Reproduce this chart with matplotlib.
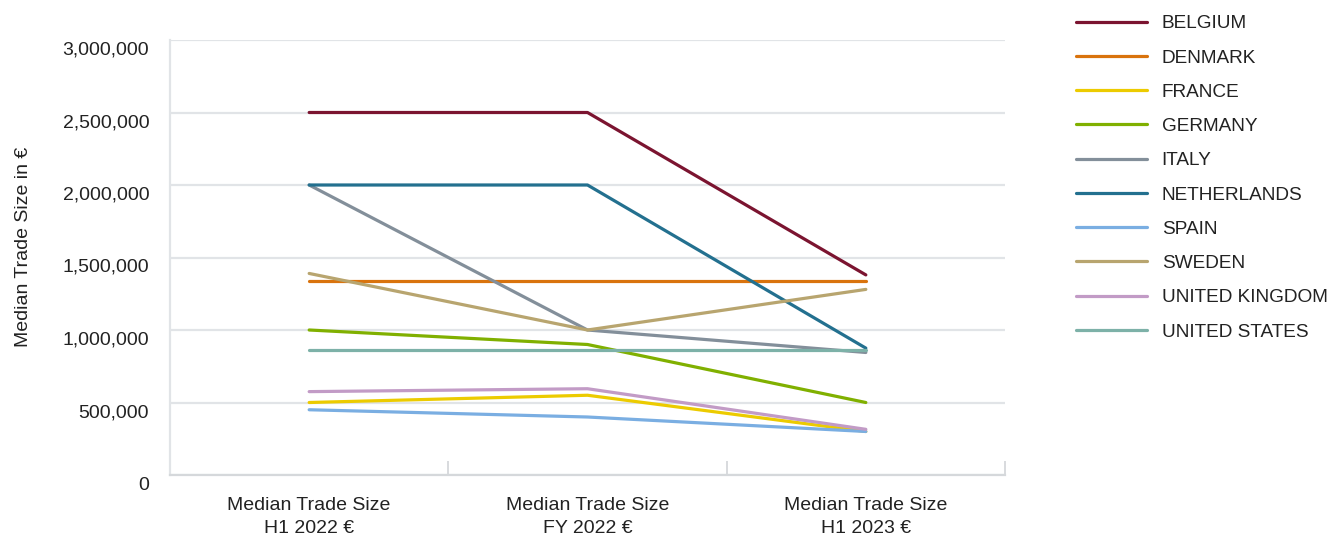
import matplotlib
matplotlib.use("Agg")
import matplotlib.pyplot as plt
from matplotlib.transforms import ScaledTranslation
from matplotlib.ticker import FuncFormatter

plt.rcParams['font.family'] = ['Liberation Sans', 'DejaVu Sans']

categories = ["Median Trade Size\nH1 2022 €", "Median Trade Size\nFY 2022 €", "Median Trade Size\nH1 2023 €"]
countries = ["BELGIUM", "DENMARK", "FRANCE", "GERMANY", "ITALY", "NETHERLANDS",
             "SPAIN", "SWEDEN", "UNITED KINGDOM", "UNITED STATES"]
belgium = [2500000, 2500000, 1380000]
denmark = [1340000, 1340000, 1340000]
france = [500000, 550000, 300000]
germany = [1000000, 900000, 500000]
italy = [2000000, 1000000, 845000]
netherlands = [2000000, 2000000, 875000]
spain = [450000, 400000, 300000]
sweden = [1390000, 1000000, 1280000]
united_kingdom = [575000, 595000, 315000]
united_states = [860000, 860000, 860000]
series = [belgium, denmark, france, germany, italy, netherlands, spain, sweden,
          united_kingdom, united_states]
colors = ["#7b1430", "#d9730d", "#eccb00", "#80b000", "#838f9a", "#23708f",
          "#7aaee2", "#b8a56f", "#c29bc6", "#7db1a8"]
yticks = [0, 500000, 1000000, 1500000, 2000000, 2500000, 3000000]

fig = plt.figure(figsize=(13.33, 5.37), dpi=100)
ax = fig.add_axes([170/1333, 1-475/537, (1005-170)/1333, (475-40)/537])

x = list(range(len(categories)))
handles = []
for name, vals, c in zip(countries, series, colors):
    h, = ax.plot(x, vals, color=c, lw=2.3, label=name, solid_capstyle='round', zorder=3)
    handles.append(h)

ax.set_xlim(-0.5, len(categories) - 0.5)
ax.set_ylim(0, 3000000)
ax.set_yticks(yticks)
ax.yaxis.set_major_formatter(FuncFormatter(lambda v, p: f"{int(v):,}"))
ax.grid(axis='y', color='#e1e4e7', lw=1.6, zorder=0)
ax.set_axisbelow(True)

ax.set_xticks(x)
ax.set_xticklabels(categories, fontsize=14, color='#222222', linespacing=1.45)
ax.set_xticks([i - 0.5 for i in range(len(categories) + 1)], minor=True)
ax.tick_params(axis='x', which='major', length=0, pad=16)
ax.tick_params(axis='x', which='minor', direction='in', length=10, width=1.3, color='#d5d8db')
ax.tick_params(axis='y', length=0, pad=15, labelsize=14, labelcolor='#222222')

for lbl in ax.get_yticklabels():
    lbl.set_transform(lbl.get_transform() + ScaledTranslation(0, -8/100, fig.dpi_scale_trans))

for s in ['top', 'right']:
    ax.spines[s].set_visible(False)
ax.spines['left'].set_color('#e1e4e7')
ax.spines['left'].set_linewidth(1.6)
ax.spines['bottom'].set_color('#d5d8db')
ax.spines['bottom'].set_linewidth(1.6)

ax.set_ylabel("Median Trade Size in €", fontsize=14, color='#222222')
ax.yaxis.set_label_coords((32 - 170) / 835, (475 - 247) / 435)

fig.legend(handles=handles, loc='upper left', bbox_to_anchor=(1076/1333, 1 - 15/537),
           frameon=False, fontsize=13.7, handlelength=3.75, handletextpad=0.75,
           labelspacing=0.89, borderpad=0, borderaxespad=0, labelcolor='#222222')

fig.savefig("out.png", dpi=100)
